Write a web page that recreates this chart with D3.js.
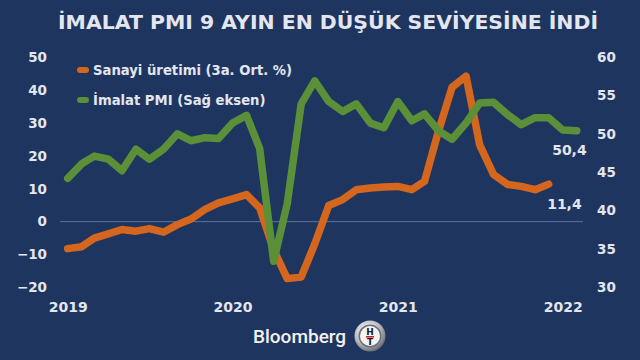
<!DOCTYPE html>
<html>
<head>
<meta charset="utf-8">
<script src="https://cdn.jsdelivr.net/npm/d3@7"></script>
<style>
  html, body { margin: 0; padding: 0; background: #1e3560; }
  svg { display: block; }
  text { font-family: "DejaVu Sans", Verdana, sans-serif; font-weight: bold; }
</style>
</head>
<body>
<svg id="chart" width="640" height="360"></svg>
<script>
// ---- data ----
const titleText = "İMALAT PMI 9 AYIN EN DÜŞÜK SEVİYESİNE İNDİ";
const seriesNames = ["Sanayi üretimi (3a. Ort. %)", "İmalat PMI (Sağ eksen)"];
const months = [
  "2019-01","2019-02","2019-03","2019-04","2019-05","2019-06","2019-07","2019-08","2019-09","2019-10","2019-11","2019-12",
  "2020-01","2020-02","2020-03","2020-04","2020-05","2020-06","2020-07","2020-08","2020-09","2020-10","2020-11","2020-12",
  "2021-01","2021-02","2021-03","2021-04","2021-05","2021-06","2021-07","2021-08","2021-09","2021-10","2021-11","2021-12",
  "2022-01","2022-02"
];
// Sanayi üretimi, 3-month average yoy % (left axis), Jan 2019 - Dec 2021
const industrialProduction = [
  -8.2, -7.6, -5.0, -3.7, -2.4, -2.9, -2.1, -3.2, -0.9, 0.8, 3.7, 5.7,
  6.9, 8.2, 4.2, -8.5, -17.3, -16.8, -6.8, 4.9, 6.7, 9.7, 10.2, 10.5,
  10.7, 9.7, 12.2, 27.5, 40.8, 44.2, 23.4, 14.3, 11.3, 10.7, 9.7, 11.4
];
// İmalat PMI (right axis), Jan 2019 - Feb 2022
const manufacturingPMI = [
  44.2, 46.1, 47.1, 46.7, 45.2, 48.0, 46.7, 48.0, 50.0, 49.1, 49.5, 49.4,
  51.4, 52.4, 48.1, 33.4, 40.9, 53.9, 56.9, 54.2, 52.9, 53.9, 51.4, 50.8,
  54.2, 51.7, 52.6, 50.4, 49.3, 51.4, 54.0, 54.1, 52.5, 51.2, 52.1, 52.1,
  50.5, 50.4
];
const leftTicks = [-20, -10, 0, 10, 20, 30, 40, 50];
const rightTicks = [30, 35, 40, 45, 50, 55, 60];
const yearTicks = ["2019-01", "2020-01", "2021-01", "2022-01"];
const yearLabels = ["2019", "2020", "2021", "2022"];
const lastLabels = ["11,4", "50,4"];

// ---- styles ----
const BG = "#1e3560";
const TXT = "#e4e6ee";
const ORANGE = "#d4661d";
const GREEN = "#5b9038";

const svg = d3.select("#chart");
svg.append("rect").attr("width", 640).attr("height", 360).attr("fill", BG);

const parse = d3.timeParse("%Y-%m");
const dates = months.map(parse);

const x = d3.scaleTime().domain([parse("2019-01"), parse("2022-02")]).range([67.7, 576.7]);
const yL = d3.scaleLinear().domain([-20, 50]).range([287.5, 57]);
const yR = d3.scaleLinear().domain([30, 60]).range([287.5, 57]);

// title
const title = svg.append("text")
  .attr("x", 328).attr("y", 28.5)
  .attr("text-anchor", "middle")
  .attr("fill", TXT)
  .style("font-size", "19px")
  .text(titleText);
const tw = title.node().getComputedTextLength();
if (Math.abs(tw - 540) > 4) title.attr("textLength", 540).attr("lengthAdjust", "spacingAndGlyphs");

// zero line
svg.append("line")
  .attr("x1", 60).attr("x2", 583)
  .attr("y1", yL(0)).attr("y2", yL(0))
  .attr("stroke", "#5a73a0").attr("stroke-width", 1);

// axes
const axL = svg.append("g").attr("transform", "translate(47,0)")
  .call(d3.axisLeft(yL).tickValues(leftTicks).tickSize(0).tickPadding(0).tickFormat(d3.format("d")));
const axR = svg.append("g").attr("transform", "translate(597,0)")
  .call(d3.axisRight(yR).tickValues(rightTicks).tickSize(0).tickPadding(0).tickFormat(d3.format("d")));
const axB = svg.append("g").attr("transform", "translate(0,302)")
  .call(d3.axisBottom(x).tickValues(yearTicks.map(parse)).tickSize(0).tickPadding(0)
    .tickFormat((d, i) => yearLabels[i]));
[axL, axR, axB].forEach(g => {
  g.select(".domain").remove();
  g.selectAll("text").attr("fill", TXT)
    .style("font-family", "'DejaVu Sans', Verdana, sans-serif")
    .style("font-weight", "bold").style("font-size", "13.5px");
});
axB.selectAll("text").style("font-size", "14px");

// lines
const lineL = d3.line().x((d, i) => x(dates[i])).y(d => yL(d));
const lineR = d3.line().x((d, i) => x(dates[i])).y(d => yR(d));

svg.append("path").datum(industrialProduction)
  .attr("d", lineL).attr("fill", "none").attr("stroke", ORANGE)
  .attr("stroke-width", 7.5).attr("stroke-linejoin", "round").attr("stroke-linecap", "round");
svg.append("path").datum(manufacturingPMI)
  .attr("d", lineR).attr("fill", "none").attr("stroke", GREEN)
  .attr("stroke-width", 7.5).attr("stroke-linejoin", "round").attr("stroke-linecap", "round");

// end labels
const lastIP = industrialProduction.length - 1;
const lastPMI = manufacturingPMI.length - 1;
svg.append("text").attr("x", x(dates[lastIP]) + 33).attr("y", yL(industrialProduction[lastIP]) + 25)
  .attr("text-anchor", "end").attr("fill", TXT).style("font-size", "14px").text(lastLabels[0]);
svg.append("text").attr("x", x(dates[lastPMI]) + 10).attr("y", yR(manufacturingPMI[lastPMI]) + 24)
  .attr("text-anchor", "end").attr("fill", TXT).style("font-size", "14px").text(lastLabels[1]);

// legend
const legend = svg.append("g");
const legColors = [ORANGE, GREEN];
const legY = [70, 100];
seriesNames.forEach((name, i) => {
  legend.append("line").attr("x1", 80).attr("x2", 86).attr("y1", legY[i]).attr("y2", legY[i])
    .attr("stroke", legColors[i]).attr("stroke-width", 6).attr("stroke-linecap", "round");
  legend.append("text").attr("x", 93).attr("y", legY[i] + 4.5)
    .attr("fill", TXT).style("font-size", "13.2px").text(name);
});

// Bloomberg HT logo
svg.append("text").attr("x", 253).attr("y", 343)
  .attr("fill", "#f2f2f2")
  .style("font-family", "Roboto, 'Open Sans', sans-serif").style("font-weight", "500")
  .style("font-size", "19px").text("Bloomberg");
const defs = svg.append("defs");
const rg = defs.append("radialGradient").attr("id", "ring").attr("cx", "40%").attr("cy", "35%").attr("r", "70%");
rg.append("stop").attr("offset", "0%").attr("stop-color", "#ffffff");
rg.append("stop").attr("offset", "60%").attr("stop-color", "#b9bcc2");
rg.append("stop").attr("offset", "100%").attr("stop-color", "#5c6068");
const logo = svg.append("g").attr("transform", "translate(370,336)");
logo.append("circle").attr("r", 15.5).attr("fill", "url(#ring)");
logo.append("circle").attr("r", 11.5).attr("fill", "#6d7178");
logo.append("circle").attr("r", 10).attr("fill", "#f4f4f4");
logo.append("text").attr("y", -1).attr("text-anchor", "middle").attr("fill", "#222")
  .style("font-size", "9px").style("font-family", "'DejaVu Sans', sans-serif").text("H");
logo.append("rect").attr("x", -4).attr("y", 0).attr("width", 8).attr("height", 1.6).attr("fill", "#d0202a");
logo.append("text").attr("y", 9).attr("text-anchor", "middle").attr("fill", "#222")
  .style("font-size", "9px").style("font-family", "'DejaVu Sans', sans-serif").text("T");
</script>
</body>
</html>
